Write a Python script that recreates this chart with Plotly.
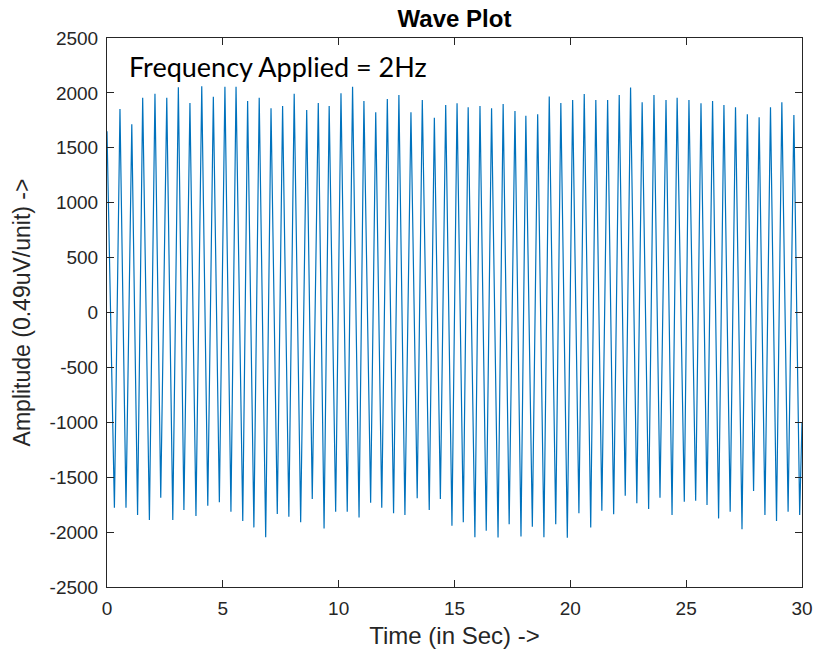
import plotly.graph_objects as go

# Start value of the record (t = 0) and last value (t = 30)
start_time, start_value = 0.0, 1650
end_time, end_value = 30.0, -1000

# Per-cycle maxima (time in s, amplitude)
peak_times = [0.56, 1.07, 1.54, 2.07, 2.58, 3.08, 3.58, 4.09, 4.59, 5.09, 5.57, 6.07, 6.57, 7.08, 7.58,
              8.08, 8.62, 9.12, 9.59, 10.10, 10.60, 11.09, 11.60, 12.10, 12.60, 13.12, 13.61, 14.13,
              14.62, 15.11, 15.59, 16.10, 16.60, 17.10, 17.61, 18.08, 18.59, 19.09, 19.59, 20.10,
              20.60, 21.10, 21.61, 22.11, 22.60, 23.10, 23.61, 24.13, 24.61, 25.12, 25.64, 26.14,
              26.63, 27.13, 27.64, 28.15, 28.64, 29.13, 29.65]
peak_values = [1853, 1714, 1956, 1993, 1956, 2051, 1908, 2060, 1965, 2057, 2057, 1926, 1956, 1860, 1881,
               1993, 1844, 1908, 1881, 1996, 2057, 1926, 1823, 1944, 1981, 1823, 1935, 1774, 1890,
               1905, 1869, 1881, 1860, 1899, 1835, 1792, 1805, 1966, 1908, 1935, 1990, 1935, 1935,
               1981, 2048, 1914, 1981, 1935, 1956, 1935, 1905, 1926, 1890, 1869, 1805, 1778, 1869,
               1914, 1799]

# Per-cycle minima (time in s, amplitude)
trough_times = [0.32, 0.82, 1.32, 1.83, 2.32, 2.84, 3.32, 3.84, 4.35, 4.85, 5.35, 5.86, 6.34, 6.85,
                7.35, 7.85, 8.36, 8.86, 9.37, 9.87, 10.37, 10.88, 11.38, 11.86, 12.37, 12.86, 13.39,
                13.91, 14.39, 14.89, 15.38, 15.88, 16.37, 16.88, 17.36, 17.87, 18.36, 18.86, 19.37,
                19.87, 20.37, 20.88, 21.36, 21.87, 22.37, 22.87, 23.38, 23.87, 24.39, 24.92, 25.41,
                25.90, 26.40, 26.90, 27.41, 27.91, 28.40, 28.90, 29.40, 29.90]
trough_values = [-1778, -1778, -1844, -1890, -1687, -1890, -1799, -1853, -1759, -1729, -1814, -1899,
                 -1957, -2047, -1835, -1860, -1911, -1699, -1966, -1814, -1814, -1866, -1732, -1778,
                 -1829, -1844, -1692, -1799, -1699, -1942, -1911, -2047, -1987, -2050, -1929, -2040,
                 -1951, -2047, -1929, -2052, -1829, -1957, -1805, -1838, -1668, -1738, -1790, -1687,
                 -1844, -1723, -1714, -1753, -1875, -1814, -1975, -1626, -1844, -1899, -1814, -1844]

x_ticks = [0, 5, 10, 15, 20, 25, 30]
y_ticks = [-2500, -2000, -1500, -1000, -500, 0, 500, 1000, 1500, 2000, 2500]

pts = [(start_time, start_value)]
pts += list(zip(peak_times, peak_values))
pts += list(zip(trough_times, trough_values))
pts.append((end_time, end_value))
pts.sort(key=lambda p: p[0])
t = [p[0] for p in pts]
v = [p[1] for p in pts]

axis_color = "#262626"
sans = "Liberation Sans, Arial, sans-serif"
tick_font = dict(family=sans, size=19, color=axis_color)

fig = go.Figure()
fig.add_trace(go.Scatter(x=t, y=v, mode="lines",
                         line=dict(color="#0072BD", width=1.2), showlegend=False))

fig.update_layout(
    width=817, height=658,
    paper_bgcolor="white", plot_bgcolor="white",
    margin=dict(l=107, r=15, t=38, b=71, autoexpand=False),
    title=dict(text="<b>Wave Plot</b>", x=(107 + 695 / 2) / 817, xanchor="center",
               y=1 - 19 / 658, yref="container", yanchor="middle",
               font=dict(family=sans, size=24, color="black")),
    annotations=[dict(text="Frequency Applied = 2Hz", x=0.85, y=2245, xref="x", yref="y",
                      xanchor="left", yanchor="middle", showarrow=False,
                      font=dict(family="Lato, sans-serif", size=27, color="black"))],
)

fig.update_xaxes(range=[0, 30], tickvals=x_ticks, ticktext=[str(x) for x in x_ticks],
                 showgrid=False, zeroline=False, showline=True, linecolor=axis_color, linewidth=1,
                 mirror="ticks", ticks="inside", ticklen=7, tickcolor=axis_color,
                 tickfont=tick_font, automargin=False, ticklabelstandoff=4,
                 title=dict(text="Time (in Sec) ->", standoff=9,
                            font=dict(family=sans, size=24, color=axis_color)))
fig.update_yaxes(range=[-2500, 2500], tickvals=y_ticks, ticktext=[str(y) for y in y_ticks],
                 showgrid=False, zeroline=False, showline=True, linecolor=axis_color, linewidth=1,
                 mirror="ticks", ticks="inside", ticklen=7, tickcolor=axis_color,
                 tickfont=tick_font, automargin=False, ticklabelstandoff=4,
                 title=dict(text="Amplitude (0.49uV/unit) ->", standoff=12,
                            font=dict(family=sans, size=23, color=axis_color)))

fig.write_html("out.html")
